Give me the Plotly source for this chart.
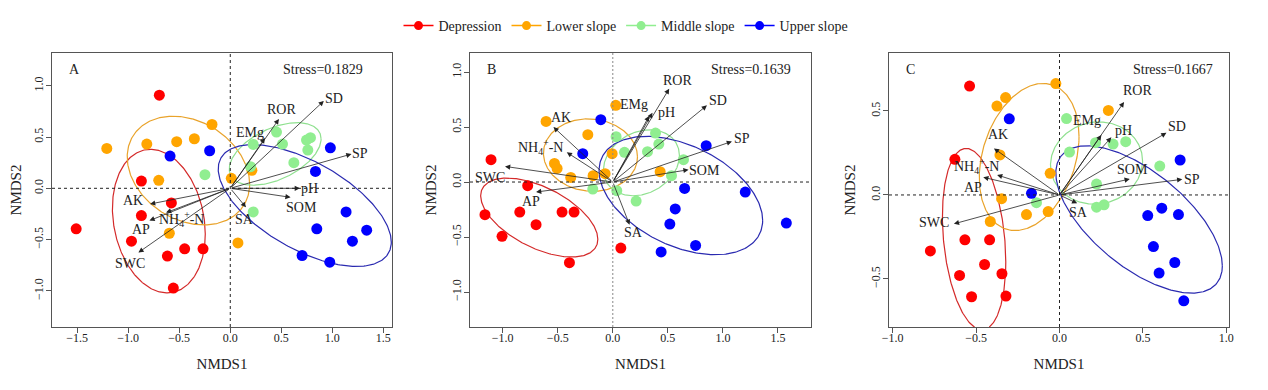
import numpy as np
import plotly.graph_objects as go

# ---------------- data ----------------
groups = ["Depression", "Lower slope", "Middle slope", "Upper slope"]
point_colors = ["#FF0000", "#FFA500", "#90EE90", "#0000FF"]
ellipse_colors = ["#D42A2A", "#E9A32B", "#8FE08F", "#2A2AB0"]
env_vars = ["SD", "ROR", "EMg", "SP", "pH", "SOM", "SA", "AK",
            "NH<sub>4</sub><sup>+</sup>-N", "AP", "SWC"]

# Panel A points
a_dep_x = [-0.695, -0.871, -0.577, -0.871, -1.510, -0.968, -0.447, -0.267, -0.616, -0.558]
a_dep_y = [0.908, 0.071, -0.143, -0.266, -0.395, -0.515, -0.590, -0.590, -0.661, -0.972]
a_low_x = [-1.210, -0.818, -0.525, -0.352, -0.179, -0.701, 0.010, 0.212, -0.597, 0.075]
a_low_y = [0.389, 0.431, 0.454, 0.483, 0.622, 0.078, 0.097, 0.175, -0.438, -0.532]
a_mid_x = [-0.248, 0.225, 0.453, 0.512, 0.747, 0.786, 0.760, 0.623, 0.199, 0.225]
a_mid_y = [0.133, 0.428, 0.548, 0.431, 0.470, 0.493, 0.373, 0.250, 0.211, -0.230]
a_up_x = [-0.590, -0.202, 0.981, 0.835, 1.135, 1.337, 1.197, 0.848, 0.704, 0.975]
a_up_y = [0.314, 0.366, 0.395, 0.165, -0.230, -0.408, -0.515, -0.395, -0.655, -0.720]

# Panel B points
b_dep_x = [-1.106, -0.773, -1.161, -0.845, -0.461, -0.352, -0.697, -1.006, -0.394, 0.073]
b_dep_y = [0.203, -0.033, -0.297, -0.273, -0.273, -0.273, -0.388, -0.494, -0.733, -0.600]
b_low_x = [-0.606, 0.027, -0.227, -0.530, -0.506, -0.382, -0.179, -0.070, -0.006, 0.430]
b_low_y = [0.551, 0.697, 0.430, 0.169, 0.124, 0.042, 0.058, 0.076, 0.258, 0.094]
b_mid_x = [0.030, 0.106, 0.388, 0.418, 0.315, 0.642, 0.533, -0.182, 0.036, 0.212]
b_mid_y = [0.412, 0.270, 0.445, 0.345, 0.276, 0.203, 0.058, -0.064, -0.079, -0.173]
b_up_x = [-0.109, -0.273, 0.848, 0.652, 1.203, 0.567, 0.518, 1.576, 0.752, 0.439]
b_up_y = [0.567, 0.258, 0.330, -0.058, -0.091, -0.245, -0.382, -0.373, -0.576, -0.636]

# Panel C points
c_dep_x = [-0.539, -0.627, -0.567, -0.419, -0.774, -0.449, -0.345, -0.599, -0.527, -0.321]
c_dep_y = [0.648, 0.212, -0.267, -0.267, -0.333, -0.414, -0.469, -0.479, -0.606, -0.602]
c_low_x = [-0.022, -0.323, -0.375, 0.293, -0.357, -0.056, -0.347, -0.198, -0.068, -0.415]
c_low_y = [0.663, 0.580, 0.529, 0.503, 0.238, 0.129, -0.022, -0.117, -0.099, -0.158]
c_mid_x = [0.042, 0.060, 0.216, 0.321, 0.397, 0.601, 0.222, 0.222, 0.267, -0.138]
c_mid_y = [0.455, 0.255, 0.311, 0.303, 0.317, 0.172, 0.065, -0.073, -0.059, -0.046]
c_up_x = [-0.301, -0.168, 0.723, 0.529, 0.613, 0.713, 0.563, 0.691, 0.597, 0.745]
c_up_y = [0.453, 0.010, 0.208, -0.123, -0.079, -0.117, -0.307, -0.402, -0.465, -0.630]

# Environmental vectors (arrow tips) and label anchors
a_arrow_x = [0.917, 0.477, 0.340, 1.188, 0.682, 0.591, 0.154, -0.786, -0.629, -0.792, -0.900]
a_arrow_y = [0.852, 0.675, 0.490, 0.334, 0.000, -0.088, -0.185, -0.153, -0.237, -0.315, -0.626]
a_label_x = [1.015, 0.503, 0.193, 1.269, 0.780, 0.698, 0.144, -0.949, -0.476, -0.877, -0.981]
a_label_y = [0.875, 0.768, 0.541, 0.340, 0.000, -0.190, -0.302, -0.114, -0.302, -0.406, -0.730]

b_arrow_x = [0.855, 0.512, 0.330, 1.082, 0.360, 0.688, 0.152, -0.539, -0.418, -0.697, -0.979]
b_arrow_y = [0.697, 0.848, 0.600, 0.369, 0.630, 0.112, -0.388, 0.500, 0.270, -0.091, 0.142]
b_label_x = [0.955, 0.587, 0.194, 1.173, 0.491, 0.830, 0.188, -0.470, -0.661, -0.745, -1.115]
b_label_y = [0.739, 0.924, 0.703, 0.400, 0.633, 0.105, -0.458, 0.588, 0.315, -0.176, 0.045]

c_arrow_x = [0.641, 0.387, 0.251, 0.736, 0.311, 0.421, 0.106, -0.393, -0.374, -0.457, -0.633]
c_arrow_y = [0.370, 0.553, 0.357, 0.093, 0.343, 0.095, -0.050, 0.277, 0.119, 0.105, -0.172]
c_label_x = [0.704, 0.467, 0.162, 0.796, 0.381, 0.437, 0.112, -0.368, -0.497, -0.521, -0.753]
c_label_y = [0.406, 0.624, 0.441, 0.093, 0.386, 0.153, -0.105, 0.357, 0.172, 0.046, -0.164]

# Group ellipses: centre x, centre y, half-width, half-height, correlation
a_ell_cx = [-0.700, -0.410, 0.440, 0.730]
a_ell_cy = [-0.320, 0.173, 0.335, -0.168]
a_ell_sx = [0.455, 0.600, 0.450, 0.848]
a_ell_sy = [0.700, 0.530, 0.305, 0.594]
a_ell_r = [-0.18, -0.25, 0.48, -0.60]

b_ell_cx = [-0.668, -0.203, 0.260, 0.618]
b_ell_cy = [-0.323, 0.245, 0.175, -0.123]
b_ell_sx = [0.532, 0.427, 0.345, 0.743]
b_ell_sy = [0.359, 0.329, 0.300, 0.538]
b_ell_r = [-0.55, -0.05, 0.22, -0.42]

c_ell_cx = [-0.512, -0.182, 0.222, 0.477]
c_ell_cy = [-0.263, 0.226, 0.190, -0.146]
c_ell_sx = [0.190, 0.299, 0.276, 0.499]
c_ell_sy = [0.540, 0.438, 0.245, 0.4385]
c_ell_r = [-0.25, 0.28, 0.05, -0.63]

stress_texts = ["Stress=0.1829", "Stress=0.1639", "Stress=0.1667"]
panel_letters = ["A", "B", "C"]

# ---------------- figure ----------------
FONT = "Liberation Serif, Times New Roman, serif"
fig = go.Figure()

panels = [
    dict(px=[a_dep_x, a_low_x, a_mid_x, a_up_x], py=[a_dep_y, a_low_y, a_mid_y, a_up_y],
         ax=a_arrow_x, ay=a_arrow_y, lx=a_label_x, ly=a_label_y,
         ecx=a_ell_cx, ecy=a_ell_cy, esx=a_ell_sx, esy=a_ell_sy, er=a_ell_r,
         xr=[-1.747, 1.585], yr=[-1.352, 1.319], xt=[-1.5, -1.0, -0.5, 0.0, 0.5, 1.0, 1.5],
         yt=[-1.0, -0.5, 0.0, 0.5, 1.0], dom=[52, 392], vdash="3px,3px", vcol="#222"),
    dict(px=[b_dep_x, b_low_x, b_mid_x, b_up_x], py=[b_dep_y, b_low_y, b_mid_y, b_up_y],
         ax=b_arrow_x, ay=b_arrow_y, lx=b_label_x, ly=b_label_y,
         ecx=b_ell_cx, ecy=b_ell_cy, esx=b_ell_sx, esy=b_ell_sy, er=b_ell_r,
         xr=[-1.297, 1.80], yr=[-1.318, 1.173], xt=[-1.0, -0.5, 0.0, 0.5, 1.0, 1.5],
         yt=[-1.0, -0.5, 0.0, 0.5, 1.0], dom=[470, 811], vdash="2px,2px", vcol="#888"),
    dict(px=[c_dep_x, c_low_x, c_mid_x, c_up_x], py=[c_dep_y, c_low_y, c_mid_y, c_up_y],
         ax=c_arrow_x, ay=c_arrow_y, lx=c_label_x, ly=c_label_y,
         ecx=c_ell_cx, ecy=c_ell_cy, esx=c_ell_sx, esy=c_ell_sy, er=c_ell_r,
         xr=[-1.022, 1.016], yr=[-0.786, 0.845], xt=[-1.0, -0.5, 0.0, 0.5, 1.0],
         yt=[-0.5, 0.0, 0.5], dom=[889, 1229], vdash="3px,3px", vcol="#222"),
]

W, H = 1268, 390
PAGE = 8  # the page's default body margin shifts the figure by this many pixels
top_px, bot_px = 53 - PAGE, 327 - PAGE
stress_right = [0.92, 0.948, 0.96]
t = np.linspace(0, 2 * np.pi, 300)

annotations = []
shapes = []
for i, p in enumerate(panels):
    xa = "x" if i == 0 else f"x{i+1}"
    ya = "y" if i == 0 else f"y{i+1}"
    # ellipses
    for g in range(4):
        cx, cy, sx, sy, r = p["ecx"][g], p["ecy"][g], p["esx"][g], p["esy"][g], p["er"][g]
        ex = cx + sx * np.cos(t)
        ey = cy + sy * (r * np.cos(t) + np.sqrt(1 - r * r) * np.sin(t))
        fig.add_trace(go.Scatter(x=ex, y=ey, mode="lines", xaxis=xa, yaxis=ya,
                                 line=dict(color=ellipse_colors[g], width=1.2),
                                 showlegend=False, hoverinfo="skip"))
    # points
    for g in range(4):
        fig.add_trace(go.Scatter(x=p["px"][g], y=p["py"][g], mode="markers", xaxis=xa, yaxis=ya,
                                 marker=dict(color=point_colors[g], size=11),
                                 name=groups[g], showlegend=False))
    # arrows and labels
    for k, v in enumerate(env_vars):
        annotations.append(dict(x=p["ax"][k], y=p["ay"][k], ax=0, ay=0, xref=xa, yref=ya,
                                axref=xa, ayref=ya, text="", showarrow=True,
                                arrowhead=2, arrowsize=1.3, arrowwidth=0.8, arrowcolor="#222",
                                standoff=0, startstandoff=0))
        annotations.append(dict(x=p["lx"][k], y=p["ly"][k], xref=xa, yref=ya, text=v,
                                showarrow=False, font=dict(family=FONT, size=14, color="#222"),
                                xanchor="center", yanchor="middle"))
    # panel letter and stress
    annotations.append(dict(x=0.045, y=0.94, xref=f"{xa} domain", yref=f"{ya} domain",
                            text=panel_letters[i], showarrow=False, xanchor="left",
                            yanchor="middle", font=dict(family=FONT, size=14, color="#222")))
    annotations.append(dict(x=stress_right[i], y=0.94, xref=f"{xa} domain", yref=f"{ya} domain",
                            text=stress_texts[i], showarrow=False, xanchor="right",
                            yanchor="middle", font=dict(family=FONT, size=14, color="#222")))
    # zero lines
    shapes.append(dict(type="line", xref=xa, yref=f"{ya} domain", x0=0, x1=0, y0=0, y1=1,
                       line=dict(color=p["vcol"], width=1, dash=p["vdash"])))
    shapes.append(dict(type="line", xref=f"{xa} domain", yref=ya, x0=0, x1=1, y0=0, y1=0,
                       line=dict(color="#222", width=1, dash="3px,3px")))

    axis_common = dict(showline=True, mirror=True, linecolor="#555", linewidth=1,
                       ticks="outside", ticklen=5, tickcolor="#555", showgrid=False,
                       zeroline=False, tickformat=".1f", automargin=False,
                       tickfont=dict(family=FONT, size=12, color="#222"))
    fig.layout[("xaxis" if i == 0 else f"xaxis{i+1}")] = dict(
        axis_common, domain=[(p["dom"][0] - PAGE) / W, (p["dom"][1] - PAGE) / W],
        range=p["xr"], tickvals=p["xt"], anchor=ya, ticklabelstandoff=-5,
        title=dict(text="NMDS1", font=dict(family=FONT, size=15, color="#222"), standoff=14))
    fig.layout[("yaxis" if i == 0 else f"yaxis{i+1}")] = dict(
        axis_common, domain=[1 - bot_px / H, 1 - top_px / H], range=p["yr"],
        tickvals=p["yt"], anchor=xa, tickangle=-90, ticklabelstandoff=-2,
        title=dict(text="NMDS2", font=dict(family=FONT, size=15, color="#222"), standoff=9))

# legend entries (line + point, as in the original)
for g in range(4):
    fig.add_trace(go.Scatter(x=[None], y=[None], mode="lines+markers", name=groups[g],
                             line=dict(color=point_colors[g], width=1.5),
                             marker=dict(color=point_colors[g], size=9), showlegend=True))

fig.update_layout(
    width=W, height=H, margin=dict(l=0, r=0, t=0, b=0, autoexpand=False),
    paper_bgcolor="white", plot_bgcolor="white",
    annotations=annotations, shapes=shapes,
    legend=dict(orientation="h", x=(626 - PAGE) / W, y=1 - (26 - PAGE) / H,
                xanchor="center", yanchor="middle",
                font=dict(family=FONT, size=14, color="#222"), itemwidth=30,
                tracegroupgap=0, itemclick=False),
    font=dict(family=FONT),
)

fig.write_html("out.html")
